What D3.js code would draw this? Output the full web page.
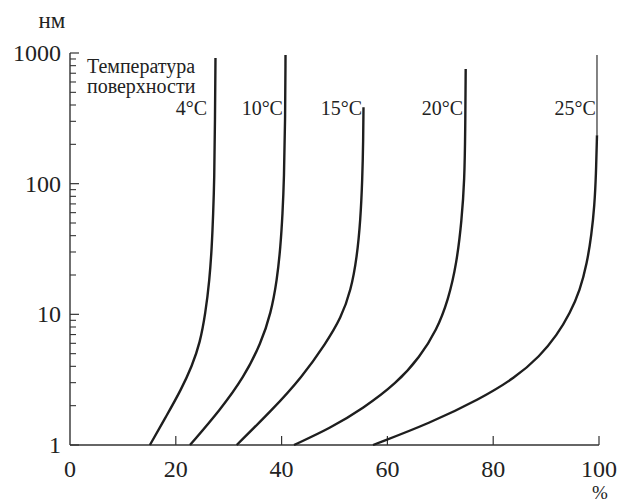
<!DOCTYPE html>
<html><head><meta charset="utf-8">
<script src="https://cdn.jsdelivr.net/npm/d3@7"></script>
<style>
html,body{margin:0;padding:0;background:#fff;}
svg text{font-family:"Liberation Serif","Times New Roman",Times,serif;}
</style></head>
<body>
<svg id="c" width="618" height="503"></svg>
<script>
// ---- data ----
const seriesNames = ["4°C", "10°C", "15°C", "20°C", "25°C"];
const pct4  = [15.1, 18.34, 20.98, 23.06, 24.57, 25.61, 26.37, 26.81, 27.07, 27.28, 27.41, 27.5];
const nm4   = [1, 1.70, 2.64, 4.02, 6.03, 10.2, 18.3, 32.7, 59.6, 106.6, 307, 914];
const pct10 = [22.68, 28.36, 32.89, 36.11, 37.99, 39.13, 39.79, 40.19, 40.45, 40.68, 40.74];
const nm10  = [1, 1.85, 3.31, 6.03, 10.2, 18.3, 32.7, 59.6, 106.6, 307, 964];
const pct15 = [31.51, 38.19, 43.86, 48.39, 51.23, 53.12, 54.25, 54.91, 55.26, 55.43, 55.48];
const nm15  = [1, 1.85, 3.31, 6.03, 9.37, 15.3, 27.5, 52.7, 106.6, 215, 385];
const pct20 = [42.34, 49.15, 55.44, 61.76, 66.16, 69.32, 71.51, 73.1, 74.05, 74.57, 74.72, 74.8];
const nm20  = [1, 1.34, 1.91, 2.97, 4.74, 7.58, 12.9, 24.6, 52.7, 106.6, 256, 753];
const pct25 = [57.28, 68.05, 77.5, 84.12, 88.85, 92.06, 94.52, 96.41, 97.73, 98.58, 99.15, 99.43, 99.62];
const nm25  = [1, 1.47, 2.25, 3.26, 4.79, 6.94, 10.2, 15.3, 24.6, 40.5, 68.6, 116, 235];
const pct25thin = [99.62, 99.62];
const nm25thin  = [235, 964];
const labelPct = [25.9, 40.26, 55.2, 74.3, 99.4];
const labelNm = 335; // level of temperature labels (nm)
const xTicks = [0, 20, 40, 60, 80, 100];
const yMajor = [1, 10, 100, 1000];
const yTickLabels = ["1", "10", "100", "1000"];
const xLabel = "%";
const yLabel = "нм";
const annotLines = ["Температура", "поверхности"];

const series = [[pct4, nm4], [pct10, nm10], [pct15, nm15], [pct20, nm20], [pct25, nm25]];

// ---- layout ----
const svg = d3.select("#c");
const x = d3.scaleLinear().domain([0, 100]).range([70, 599]);
const y = d3.scaleLog().domain([1, 1000]).range([445, 53]);
const axisColor = "#333";
const ink = "#1e1e1e";
const serif = '"Liberation Serif","Times New Roman",Times,serif';

const yMinor = [];
for (let d = 1; d < 1000; d *= 10) for (let k = 2; k <= 9; k++) yMinor.push(d * k);

const g = svg.append("g").attr("font-family", serif);
g.append("line").attr("x1", x(0)).attr("x2", x(0)).attr("y1", y(1)).attr("y2", y(1000))
  .attr("stroke", axisColor).attr("stroke-width", 1.4);
g.append("line").attr("x1", x(0)).attr("x2", x(100)).attr("y1", y(1)).attr("y2", y(1))
  .attr("stroke", axisColor).attr("stroke-width", 1.4);

g.selectAll(".ymaj").data(yMajor).join("line")
  .attr("x1", x(0)).attr("x2", x(0) + 9).attr("y1", d => y(d)).attr("y2", d => y(d))
  .attr("stroke", axisColor).attr("stroke-width", 1.2);
g.selectAll(".ymin").data(yMinor).join("line")
  .attr("x1", x(0)).attr("x2", x(0) + 6).attr("y1", d => y(d)).attr("y2", d => y(d))
  .attr("stroke", axisColor).attr("stroke-width", 1.1);
g.selectAll(".ylab").data(yMajor).join("text")
  .attr("x", x(0) - 9).attr("y", d => y(d) + 8)
  .attr("text-anchor", "end").attr("font-size", 24).attr("fill", "#222")
  .attr("font-family", serif)
  .text((d, i) => yTickLabels[i]);

g.selectAll(".xt").data(xTicks.filter(d => d > 0)).join("line")
  .attr("x1", d => x(d)).attr("x2", d => x(d)).attr("y1", y(1)).attr("y2", y(1) - 9)
  .attr("stroke", axisColor).attr("stroke-width", 1.2);
g.selectAll(".xlab").data(xTicks).join("text")
  .attr("x", d => x(d)).attr("y", y(1) + 32)
  .attr("text-anchor", "middle").attr("font-size", 24).attr("fill", "#222")
  .attr("font-family", serif)
  .text(d => d);

g.append("text").attr("x", 52).attr("y", 28).attr("text-anchor", "middle")
  .attr("font-size", 23).attr("fill", "#222").attr("font-family", serif).text(yLabel);
g.append("text").attr("x", 600).attr("y", 499).attr("text-anchor", "middle")
  .attr("font-size", 19).attr("fill", "#222").attr("font-family", serif).text(xLabel);

const line = d3.line().x(d => x(d[0])).y(d => y(d[1])).curve(d3.curveBasis);
series.forEach(([px, pn]) => {
  const pts = px.map((v, i) => [v, pn[i]]);
  g.append("path").attr("d", line(pts)).attr("fill", "none")
    .attr("stroke", ink).attr("stroke-width", 2.4).attr("stroke-linejoin", "round");
});
g.append("path").attr("d", line(pct25thin.map((v, i) => [v, nm25thin[i]])))
  .attr("fill", "none").attr("stroke", ink).attr("stroke-width", 1.1);

g.selectAll(".tl").data(seriesNames).join("text")
  .attr("x", (d, i) => x(labelPct[i])).attr("y", y(labelNm))
  .attr("text-anchor", "end").attr("font-size", 20).attr("fill", "#222")
  .attr("font-family", serif)
  .text(d => d);
g.selectAll(".an").data(annotLines).join("text")
  .attr("x", x(3.2)).attr("y", (d, i) => y(labelNm) - 42 + i * 20)
  .attr("font-size", 20).attr("fill", "#222")
  .attr("font-family", serif)
  .text(d => d);
</script>
</body></html>
